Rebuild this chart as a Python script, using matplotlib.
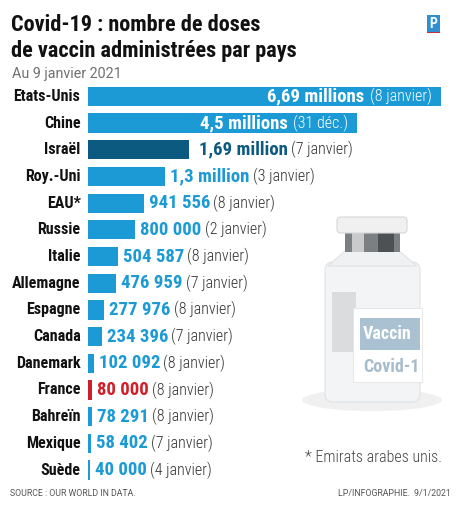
import matplotlib
matplotlib.use("Agg")
import matplotlib.pyplot as plt
from matplotlib.patches import Rectangle, FancyBboxPatch, Ellipse, Polygon

# donnees
pays = ["Etats-Unis", "Chine", "Israël", "Roy.-Uni", "EAU*", "Russie", "Italie",
        "Allemagne", "Espagne", "Canada", "Danemark", "France", "Bahreïn",
        "Mexique", "Suède"]
doses = [6690000, 4500000, 1690000, 1300000, 941556, 800000, 504587, 476959,
         277976, 234396, 102092, 80000, 78291, 58402, 40000]
etiquettes = ["6,69 millions", "4,5 millions", "1,69 million", "1,3 million",
              "941 556", "800 000", "504 587", "476 959", "277 976", "234 396",
              "102 092", "80 000", "78 291", "58 402", "40 000"]
dates = ["(8 janvier)", "(31 déc.)", "(7 janvier)", "(3 janvier)", "(8 janvier)",
         "(2 janvier)", "(8 janvier)", "(7 janvier)", "(8 janvier)", "(7 janvier)",
         "(8 janvier)", "(8 janvier)", "(8 janvier)", "(7 janvier)", "(4 janvier)"]

BLEU = "#1b9ad6"
MARINE = "#0d5a80"
ROUGE = "#d11f2a"
NARROW = ["Roboto Condensed", "DejaVu Sans"]

W, H = 460, 505
fig = plt.figure(figsize=(W / 100, H / 100), dpi=100)
fig.patch.set_facecolor("white")


def px(x, y):
    return x / W, 1 - y / H


# titre
fig.text(*px(11, 31), "Covid-19 : nombre de doses", family=NARROW, weight="bold",
         fontsize=16, color="#111111", va="baseline")
fig.text(*px(11, 57), "de vaccin administrées par pays", family=NARROW, weight="bold",
         fontsize=16, color="#111111", va="baseline")
fig.text(*px(12, 78), "Au 9 janvier 2021", family=["Roboto", "DejaVu Sans"],
         fontsize=10.3, color="#707070", va="baseline")

# logo
fig.patches.append(Rectangle(px(427, 32), 13 / W, 17 / H, transform=fig.transFigure,
                             facecolor="#2f8fd0", edgecolor="none"))
fig.patches.append(Rectangle(px(427, 33), 13 / W, 1.5 / H, transform=fig.transFigure,
                             facecolor="#c9303a", edgecolor="none"))
fig.text(*px(433.5, 24), "P", family=NARROW, weight="bold", fontsize=10,
         color="white", ha="center", va="center")

# barres
y0, y1 = 83.0, 483.4
ax = fig.add_axes([87.5 / W, 1 - y1 / H, 353.5 / W, (y1 - y0) / H])
xmax = 353.5 / 60 * 1e6
ax.set_xlim(0, xmax)
ax.set_ylim(len(pays) - 0.5, -0.5)
ax.axis("off")

couleurs = [BLEU] * len(pays)
couleurs[pays.index("Israël")] = MARINE
couleurs[pays.index("France")] = ROUGE
ypos = list(range(len(pays)))
ax.barh(ypos, doses, height=0.72, color=couleurs, edgecolor="none")

for i, (nom, v, lab, d, c) in enumerate(zip(pays, doses, etiquettes, dates, couleurs)):
    ax.annotate(nom, xy=(0, i), xycoords=ax.get_yaxis_transform(), xytext=(-7, 0),
                textcoords="offset pixels", ha="right", va="center", family=NARROW,
                weight="bold", fontsize=11.5, color="#111111")
    fin = min(v, xmax)
    if v > 3e6:
        t = ax.annotate(d, xy=(fin, i), xytext=(-9, 0), textcoords="offset pixels",
                        ha="right", va="center", family=NARROW, weight="light",
                        fontsize=11.5, color="white")
        ax.annotate(lab, xy=(0, 0.5), xycoords=t, xytext=(-6, 0),
                    textcoords="offset pixels", ha="right", va="center",
                    family=NARROW, weight="bold", fontsize=13.5, color="white")
    else:
        t = ax.annotate(lab, xy=(fin, i), xytext=(10 if c == MARINE else 5, 0),
                        textcoords="offset pixels", ha="left", va="center",
                        family=NARROW, weight="bold", fontsize=13.5, color=c)
        ax.annotate(d, xy=(1, 0.5), xycoords=t, xytext=(3, 0),
                    textcoords="offset pixels", ha="left", va="center",
                    family=NARROW, weight="light", fontsize=11.5, color="#333333")

# flacon
vx = fig.add_axes([300 / W, 1 - 420 / H, 160 / W, 215 / H])
vx.set_xlim(300, 460)
vx.set_ylim(420, 205)
vx.axis("off")
vx.add_patch(Ellipse((372, 400), 140, 22, facecolor="#f0f0f0", edgecolor="none"))
vx.add_patch(FancyBboxPatch((325, 262), 95, 140, boxstyle="round,pad=0,rounding_size=8",
                            facecolor="#f2f4f5", edgecolor="#e0e3e5", lw=0.8))
vx.add_patch(Polygon([(328, 266), (346, 250), (398, 250), (417, 266)],
                     facecolor="#eff1f2", edgecolor="#e0e3e5", lw=0.8))
vx.add_patch(Rectangle((332, 292), 24, 60, facecolor="#dadcde", edgecolor="none"))
vx.add_patch(Rectangle((345, 232), 55, 20, facecolor="#7c7f82", edgecolor="none"))
vx.add_patch(Rectangle((352, 232), 12, 20, facecolor="#c8cacc", edgecolor="none"))
vx.add_patch(Rectangle((378, 232), 16, 20, facecolor="#4e5154", edgecolor="none"))
vx.add_patch(FancyBboxPatch((337, 217), 70, 16, boxstyle="round,pad=0,rounding_size=4",
                            facecolor="#f0f0f0", edgecolor="#d6d6d6", lw=0.8))
vx.add_patch(Rectangle((353, 308), 69, 74, facecolor="white", edgecolor="#e4e4e4", lw=0.6))
vx.add_patch(Rectangle((360, 318), 60, 32, facecolor="#a9c1d1", edgecolor="none"))
vx.text(363, 334, "Vaccin", family=NARROW, weight="bold", fontsize=13,
        color="white", va="center")
vt = vx.text(363, 367, "Covid-19", family=NARROW, weight="bold", fontsize=13,
             color="#a7bdcc", va="center")
vt.set_clip_path(Rectangle((353, 300), 67, 90, transform=vx.transData))
vt.set_clip_on(True)

# notes
fig.text(*px(442, 458), "* Emirats arabes unis.", family=NARROW, weight="light",
         fontsize=11.5, color="#444444", ha="right", va="center")
fig.text(*px(10, 494), "SOURCE : OUR WORLD IN DATA.", family=["Roboto", "DejaVu Sans"],
         fontsize=6.3, color="#555555", va="center")
fig.text(*px(451, 494), "LP/INFOGRAPHIE.  9/1/2021", family=["Roboto", "DejaVu Sans"],
         fontsize=6.3, color="#555555", ha="right", va="center")

fig.savefig("out.png", dpi=100, facecolor="white")
